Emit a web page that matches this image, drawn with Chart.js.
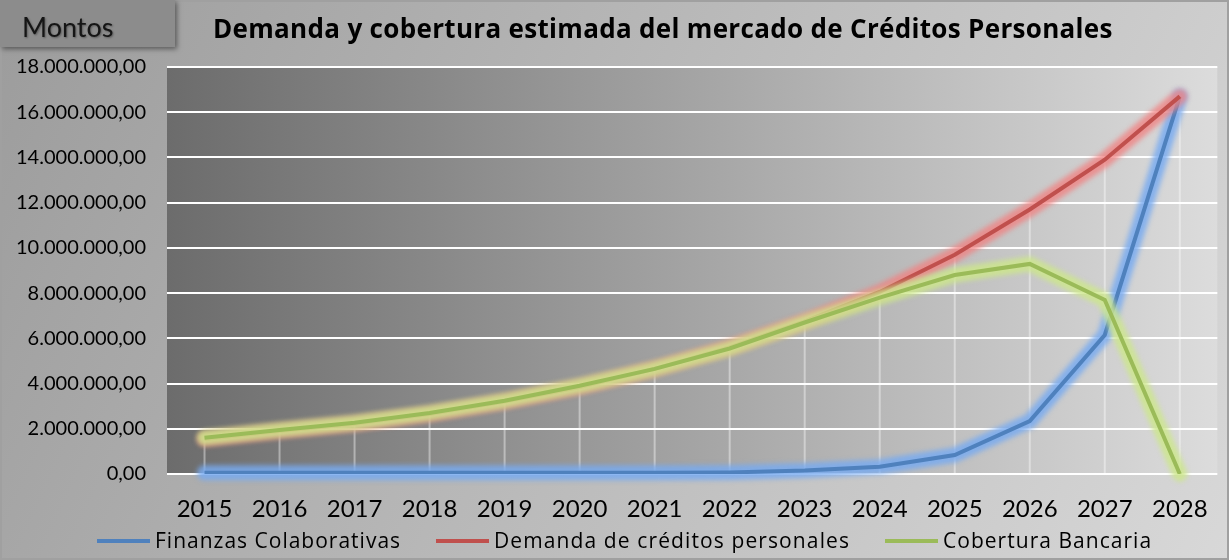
<!DOCTYPE html>
<html>
<head>
    <title>Demanda y cobertura</title>
    <script src="https://cdn.jsdelivr.net/npm/chart.js"></script>
    <style>
        html, body { margin: 0; padding: 0; background: #bdbdbd; }
        #wrap { width: 1229px; height: 560px; position: relative; }
    </style>
    <script>
        // valores
        const years = ['2015', '2016', '2017', '2018', '2019', '2020', '2021', '2022', '2023', '2024', '2025', '2026', '2027', '2028'];
        const finanzas = [50000, 50000, 50000, 50000, 50000, 50000, 50000, 70000, 150000, 320000, 840000, 2340000, 6150000, 16700000];
        const demanda = [1550000, 1900000, 2220000, 2650000, 3200000, 3850000, 4650000, 5600000, 6750000, 8050000, 9700000, 11700000, 13900000, 16700000];
        const cobertura = [1600000, 1950000, 2270000, 2700000, 3240000, 3900000, 4650000, 5550000, 6700000, 7800000, 8800000, 9290000, 7700000, 0];
        const seriesNames = ['Finanzas Colaborativas', 'Demanda de créditos personales', 'Cobertura Bancaria'];
        const chartTitle = 'Demanda y cobertura estimada del mercado de Créditos Personales';
        const boxLabel = 'Montos';

        const lineColors = ['#4f81bd', '#c0504d', '#9bbb59'];
        const glowColors = ['rgba(120,170,240,0.85)', 'rgba(240,130,130,0.8)', 'rgba(205,230,140,0.85)'];

        function formatMonto(v) {
            const parts = Math.round(v).toString().replace(/\B(?=(\d{3})+(?!\d))/g, '.');
            return parts + ',00';
        }

        // ajusta el espaciado para que el texto ocupe el ancho deseado
        function fitSpacing(ctx, text, width) {
            ctx.letterSpacing = '0px';
            const w = ctx.measureText(text).width;
            ctx.letterSpacing = ((width - w) / text.length).toFixed(2) + 'px';
        }

        const backgroundPlugin = {
            id: 'fondo',
            beforeDraw(chart) {
                const ctx = chart.ctx;
                const w = chart.width, h = chart.height;
                ctx.save();
                let g = ctx.createLinearGradient(0, 0, w, h);
                g.addColorStop(0, '#9c9c9c');
                g.addColorStop(1, '#d8d8d8');
                ctx.fillStyle = g;
                ctx.fillRect(0, 0, w, h);
                ctx.strokeStyle = '#a0a0a0';
                ctx.lineWidth = 2;
                ctx.strokeRect(1, 1, w - 2, h - 2);

                const a = chart.chartArea;
                g = ctx.createLinearGradient(a.left, 0, a.right, 0);
                g.addColorStop(0, '#6c6c6c');
                g.addColorStop(1, '#dcdcdc');
                ctx.fillStyle = g;
                ctx.fillRect(a.left, a.top, a.right - a.left, a.bottom - a.top);

                // caja "Montos"
                ctx.shadowColor = 'rgba(0,0,0,0.45)';
                ctx.shadowBlur = 5;
                ctx.shadowOffsetX = 2;
                ctx.shadowOffsetY = 2;
                ctx.fillStyle = '#8c8c8c';
                ctx.fillRect(0, 0, 175, 47);
                ctx.restore();

                ctx.save();
                ctx.fillStyle = '#151515';
                ctx.font = '27px Lato';
                ctx.textBaseline = 'middle';
                ctx.shadowColor = 'rgba(0,0,0,0.35)';
                ctx.shadowBlur = 2;
                ctx.shadowOffsetX = 1;
                ctx.shadowOffsetY = 1;
                ctx.fillText(boxLabel, 22, 28);
                ctx.restore();

                ctx.save();
                ctx.fillStyle = '#000';
                ctx.font = 'bold 26px "Open Sans"';
                fitSpacing(ctx, chartTitle, 900);
                ctx.textBaseline = 'middle';
                ctx.fillText(chartTitle, 213, 31);
                ctx.restore();
            },
            beforeDatasetsDraw(chart) {
                // líneas de proyección hasta el eje
                const ctx = chart.ctx;
                const x = chart.scales.x, y = chart.scales.y;
                ctx.save();
                ctx.strokeStyle = 'rgba(255,255,255,0.4)';
                ctx.lineWidth = 2;
                years.forEach((yr, i) => {
                    const top = Math.max(finanzas[i], demanda[i], cobertura[i]);
                    const px = x.getPixelForValue(i);
                    ctx.beginPath();
                    ctx.moveTo(px, y.getPixelForValue(top));
                    ctx.lineTo(px, y.getPixelForValue(0));
                    ctx.stroke();
                });
                ctx.restore();
            },
            beforeDatasetDraw(chart, args) {
                const meta = args.meta;
                const ctx = chart.ctx;
                ctx.save();
                ctx.filter = 'blur(2.5px)';
                ctx.strokeStyle = glowColors[args.index];
                ctx.lineWidth = 15;
                ctx.lineJoin = 'round';
                ctx.lineCap = 'round';
                ctx.beginPath();
                meta.data.forEach((p, i) => {
                    if (i === 0) ctx.moveTo(p.x, p.y); else ctx.lineTo(p.x, p.y);
                });
                ctx.stroke();
                ctx.restore();
            },
            afterDraw(chart) {
                // leyenda
                const ctx = chart.ctx;
                ctx.save();
                ctx.font = '21px "Open Sans"';
                ctx.textBaseline = 'middle';
                const markW = 53, gapMark = 5, gapItem = 35;
                const targets = [246, 356, 209];
                let cx = 97;
                const cy = 541;
                seriesNames.forEach((n, i) => {
                    ctx.fillStyle = lineColors[i];
                    ctx.fillRect(cx, cy - 2, markW, 4);
                    cx += markW + gapMark;
                    ctx.fillStyle = '#000';
                    fitSpacing(ctx, n, targets[i]);
                    ctx.fillText(n, cx, cy + 1);
                    cx += targets[i] + gapItem;
                });
                ctx.restore();
            }
        };

        document.addEventListener('DOMContentLoaded', function () {
            const datasets = [finanzas, demanda, cobertura].map((vals, i) => ({
                label: seriesNames[i],
                data: vals,
                borderColor: lineColors[i],
                backgroundColor: lineColors[i],
                borderWidth: 4,
                pointRadius: 0,
                tension: 0,
                order: 3 - i
            }));

            const ctx = document.getElementById('grafico').getContext('2d');
            new Chart(ctx, {
                type: 'line',
                data: { labels: years, datasets: datasets },
                options: {
                    responsive: false,
                    animation: false,
                    layout: { padding: { left: 0, right: 10, top: 67, bottom: 26 } },
                    plugins: {
                        legend: { display: false },
                        title: { display: false },
                        tooltip: { enabled: false }
                    },
                    scales: {
                        x: {
                            offset: true,
                            grid: { display: false, drawTicks: false },
                            border: { display: false },
                            ticks: { color: '#000', padding: 21, font: { family: 'Lato', size: 24 }, maxRotation: 0 },
                            afterFit(scale) { scale.height = 60; }
                        },
                        y: {
                            min: 0,
                            max: 18000000,
                            grid: { color: '#ffffff', lineWidth: 2, drawTicks: false },
                            border: { display: false },
                            ticks: {
                                stepSize: 2000000,
                                color: '#000',
                                padding: 21,
                                font: { family: 'Lato', size: 20 },
                                callback: v => formatMonto(v)
                            },
                            afterFit(scale) { scale.width = 167; }
                        }
                    }
                },
                plugins: [backgroundPlugin]
            });
        });
    </script>
</head>
<body>
<div id="wrap"><canvas id="grafico" width="1229" height="560"></canvas></div>
</body>
</html>
